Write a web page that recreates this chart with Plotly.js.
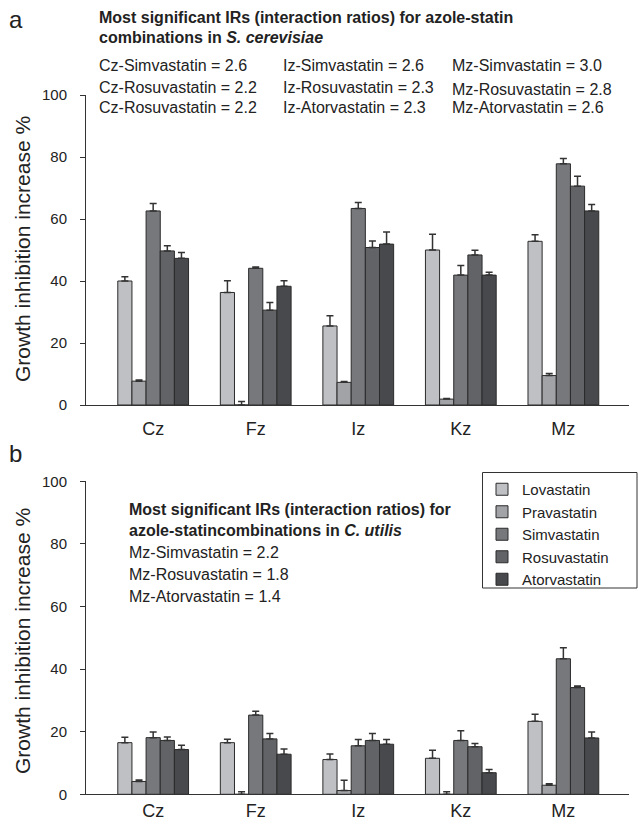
<!DOCTYPE html>
<html>
<head>
<meta charset="utf-8">
<script src="https://cdn.plot.ly/plotly-3.0.1.min.js"></script>
<style>html,body{margin:0;padding:0;background:#fff;}#chart{width:638px;height:824px;}</style>
</head>
<body>
<div id="chart"></div>
<script>
// ---- data ----
const categories = ['Cz', 'Fz', 'Iz', 'Kz', 'Mz'];
const statins = ['Lovastatin', 'Pravastatin', 'Simvastatin', 'Rosuvastatin', 'Atorvastatin'];
const statinColors = ['#bfc0c4', '#a2a3a7', '#77787c', '#626366', '#48494c'];

// Panel a: S. cerevisiae (growth inhibition increase %, with upward error)
const lovaA   = [40.0, 36.3, 25.5, 50.0, 52.8];
const lovaAErr   = [1.4, 3.8, 3.3, 5.1, 2.1];
const pravaA  = [7.7, 0.0, 7.3, 1.9, 9.5];
const pravaAErr  = [0.4, 1.1, 0.3, 0.2, 0.7];
const simvaA  = [62.6, 44.1, 63.4, 41.9, 77.8];
const simvaAErr  = [2.4, 0.4, 1.9, 3.1, 1.7];
const rosuA   = [49.7, 30.6, 50.8, 48.4, 70.6];
const rosuAErr   = [1.7, 2.5, 2.1, 1.5, 3.2];
const atorA   = [47.3, 38.3, 51.9, 41.9, 62.6];
const atorAErr   = [1.9, 1.8, 3.9, 0.9, 2.1];

// Panel b: C. utilis
const lovaB   = [16.5, 16.5, 11.1, 11.5, 23.3];
const lovaBErr   = [1.7, 1.1, 1.8, 2.6, 2.3];
const pravaB  = [4.1, 0.0, 1.2, 0.0, 2.9];
const pravaBErr  = [0.5, 0.8, 3.3, 0.8, 0.5];
const simvaB  = [18.1, 25.3, 15.5, 17.2, 43.3];
const simvaBErr  = [1.8, 1.2, 2.0, 3.1, 3.5];
const rosuB   = [17.2, 17.7, 17.2, 15.2, 34.1];
const rosuBErr   = [1.1, 1.7, 2.2, 1.0, 0.5];
const atorB   = [14.3, 12.8, 16.0, 6.9, 18.0];
const atorBErr   = [1.4, 1.7, 1.5, 1.0, 1.9];

const yTicks = [0, 20, 40, 60, 80, 100];

const panelA = [lovaA, pravaA, simvaA, rosuA, atorA];
const panelAErr = [lovaAErr, pravaAErr, simvaAErr, rosuAErr, atorAErr];
const panelB = [lovaB, pravaB, simvaB, rosuB, atorB];
const panelBErr = [lovaBErr, pravaBErr, simvaBErr, rosuBErr, atorBErr];

// ---- layout helpers ----
const W = 638, H = 824;
const FONT = 'Liberation Sans, Arial, Helvetica, sans-serif';
const TXT = '#222222';
const py = p => 1 - p / H;
const px = p => p / W;

const traces = [];
function addPanel(vals, errs, xa, ya, showLegend) {
  vals.forEach((v, i) => {
    traces.push({
      type: 'bar',
      name: statins[i],
      x: categories,
      y: v,
      xaxis: xa, yaxis: ya,
      showlegend: showLegend,
      legendgroup: statins[i],
      marker: {color: statinColors[i], line: {color: '#2b2b2b', width: 1}},
      error_y: {type: 'data', symmetric: false, array: errs[i], arrayminus: v.map(() => 0),
                color: '#333333', thickness: 1.5, width: 3.5},
      hoverinfo: 'skip'
    });
  });
}
addPanel(panelA, panelAErr, 'x', 'y', false);
addPanel(panelB, panelBErr, 'x2', 'y2', true);

const xDom = [px(86), px(629)];
const xRange = [-0.655, 4.64];
function xAxis(anchor, standoff) {
  return {
    domain: xDom, anchor: anchor, type: 'category', range: xRange,
    showline: true, linecolor: '#333', linewidth: 1, ticks: '', showgrid: false, zeroline: false,
    tickfont: {family: FONT, size: 18, color: TXT}, ticklabelstandoff: standoff
  };
}
function yAxis(anchor, top, bottom) {
  return {
    domain: [py(bottom), py(top)], anchor: anchor, range: [0, 100],
    tickvals: yTicks, ticktext: yTicks.map(String),
    showline: true, linecolor: '#333', linewidth: 1, ticks: 'outside', ticklen: 5, tickcolor: '#333',
    showgrid: false, zeroline: false,
    tickfont: {family: FONT, size: 15, color: TXT}, ticklabelstandoff: 10
  };
}

const ann = [];
function txt(text, x, y, size, opts) {
  ann.push(Object.assign({
    text: text, xref: 'paper', yref: 'paper', x: px(x), y: py(y),
    xanchor: 'left', yanchor: 'middle', showarrow: false, align: 'left',
    font: {family: FONT, size: size, color: TXT}
  }, opts || {}));
}
// panel letters
txt('a', 7, 19, 24);
txt('b', 7, 453, 24);
// y titles
txt('Growth inhibition increase %', 22, 249, 21, {textangle: -90, xanchor: 'center'});
txt('Growth inhibition increase %', 22, 641, 21, {textangle: -90, xanchor: 'center'});
// panel a text
txt('<b>Most significant IRs (interaction ratios) for azole-statin</b>', 97, 17, 16);
txt('<b>combinations in <i>S. cerevisiae</i></b>', 97, 38, 16);
txt('Cz-Simvastatin = 2.6', 97, 66, 16);
txt('Cz-Rosuvastatin = 2.2', 97, 87, 16);
txt('Cz-Rosuvastatin = 2.2', 97, 108, 16);
txt('Iz-Simvastatin = 2.6', 281, 66, 16);
txt('Iz-Rosuvastatin = 2.3', 281, 87, 16);
txt('Iz-Atorvastatin = 2.3', 281, 108, 16);
txt('Mz-Simvastatin = 3.0', 450, 66, 16);
txt('Mz-Rosuvastatin = 2.8', 450, 89, 16);
txt('Mz-Atorvastatin = 2.6', 450, 108, 16);
// panel b text
txt('<b>Most significant IRs (interaction ratios) for</b>', 127, 509, 16);
txt('<b>azole-statincombinations in <i>C. utilis</i></b>', 127, 530, 16);
txt('Mz-Simvastatin = 2.2', 127, 552, 16);
txt('Mz-Rosuvastatin = 1.8', 127, 574, 16);
txt('Mz-Atorvastatin = 1.4', 127, 596, 16);

const layout = {
  width: W, height: H,
  margin: {l: 0, r: 0, t: 0, b: 0},
  paper_bgcolor: '#fff', plot_bgcolor: '#fff',
  barmode: 'group', bargap: 0.31, bargroupgap: 0,
  showlegend: true,
  legend: {
    x: px(482), y: py(473), xanchor: 'left', yanchor: 'top',
    borderwidth: 0, bgcolor: 'rgba(0,0,0,0)',
    font: {family: FONT, size: 15, color: TXT},
    itemwidth: 30, tracegroupgap: 0
  },
  shapes: [{
    type: 'rect', xref: 'paper', yref: 'paper',
    x0: px(482.5), x1: px(637), y0: py(588), y1: py(472.5),
    line: {color: '#333', width: 1}, fillcolor: 'rgba(0,0,0,0)', layer: 'above'
  }],
  xaxis: xAxis('y', 7),
  yaxis: yAxis('x', 95, 405),
  xaxis2: xAxis('y2', 0),
  yaxis2: yAxis('x2', 481.3, 794.3),
  annotations: ann
};

Plotly.newPlot('chart', traces, layout, {staticPlot: true, displayModeBar: false});
</script>
</body>
</html>
